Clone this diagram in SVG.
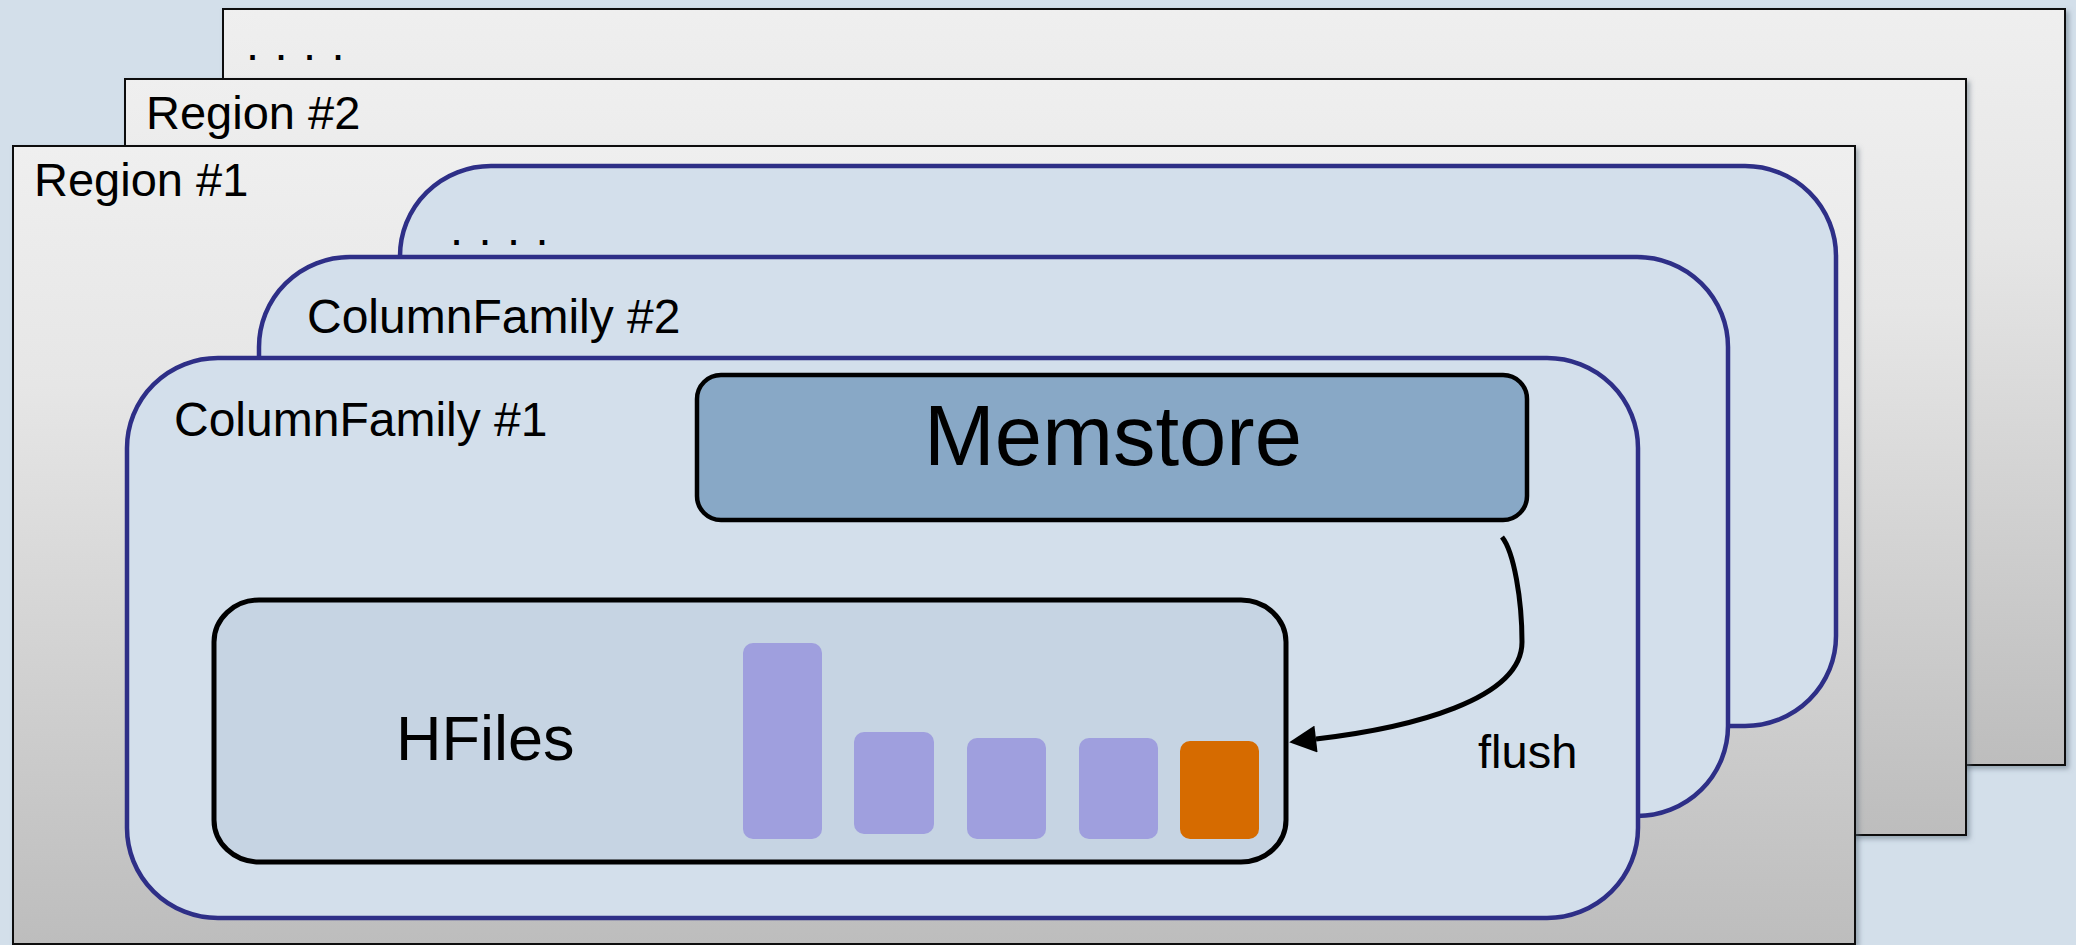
<svg xmlns="http://www.w3.org/2000/svg" width="2076" height="945" viewBox="0 0 2076 945">
<defs>
<linearGradient id="regGrad" x1="0" y1="0" x2="0" y2="1">
<stop offset="0" stop-color="#efefef"/>
<stop offset="0.3" stop-color="#e6e6e6"/>
<stop offset="1" stop-color="#bdbdbd"/>
</linearGradient>
<filter id="shadow" x="-5%" y="-5%" width="110%" height="110%">
<feDropShadow dx="3" dy="3" stdDeviation="2.5" flood-color="#5a6a7a" flood-opacity="0.5"/>
</filter>
<marker id="arrow" viewBox="0 0 10 10" refX="0" refY="5" markerWidth="5.6" markerHeight="5.4" orient="auto" markerUnits="strokeWidth">
<path d="M0,0 L10,5 L0,10 Z" fill="#000"/>
</marker>
</defs>
<style>
.region{fill:url(#regGrad);stroke:#111;stroke-width:2;filter:url(#shadow)}
.cf{fill:#d3dfeb;stroke:#2e2f87;stroke-width:4.5}
.lbl{font-family:"Liberation Sans",Arial,sans-serif;font-size:47px;fill:#000}
.cfl{font-size:48px}
.dots{letter-spacing:1.2px}
.bar{fill:#9f9fde}
</style>
<rect width="2076" height="945" fill="#d3dfea"/>

<g id="region-more">
<rect class="region" x="223" y="9" width="1842" height="756"/>
<text class="lbl dots" x="246" y="60">. . . .</text>
</g>
<g id="region-2">
<rect class="region" x="125" y="79" width="1841" height="756"/>
<text class="lbl" x="146" y="129">Region #2</text>
</g>
<g id="region-1">
<rect class="region" x="13" y="146" width="1842" height="798"/>
<text class="lbl" x="34" y="196">Region #1</text>
</g>

<g id="cf-more">
<rect class="cf" x="400" y="166" width="1436" height="560" rx="91" ry="90"/>
<text class="lbl dots" x="450" y="245">. . . .</text>
</g>
<g id="cf-2">
<rect class="cf" x="259" y="257" width="1469" height="559" rx="91" ry="90"/>
<text class="lbl cfl" x="307" y="333">ColumnFamily #2</text>
</g>
<g id="cf-1">
<rect class="cf" x="127" y="358" width="1511" height="560" rx="91" ry="90"/>
<text class="lbl cfl" x="174" y="436">ColumnFamily #1</text>
</g>

<g id="memstore">
<rect x="697" y="375" width="830" height="145" rx="24" fill="#88a8c6" stroke="#000" stroke-width="4.5"/>
<text x="1113" y="465" text-anchor="middle" font-family="Liberation Sans, Arial, sans-serif" font-size="85" fill="#000">Memstore</text>
</g>

<g id="hfiles">
<rect x="214" y="600" width="1072" height="262" rx="45" ry="42" fill="#c6d4e3" stroke="#000" stroke-width="5"/>
<text x="396" y="760" font-family="Liberation Sans, Arial, sans-serif" font-size="63" fill="#000">HFiles</text>
<rect class="bar" x="743" y="643" width="79" height="196" rx="10"/>
<rect class="bar" x="854" y="732" width="80" height="102" rx="10"/>
<rect class="bar" x="967" y="738" width="79" height="101" rx="10"/>
<rect class="bar" x="1079" y="738" width="79" height="101" rx="10"/>
<rect x="1180" y="741" width="79" height="98" rx="10" fill="#d66b00"/>
</g>

<g id="connectors">
<path d="M1502,537 C1514,552 1522,600 1522,642 C1522,700 1410,728 1316,739" fill="none" stroke="#000" stroke-width="5" marker-end="url(#arrow)"/>
<text class="lbl" x="1478" y="768">flush</text>
</g>
</svg>
